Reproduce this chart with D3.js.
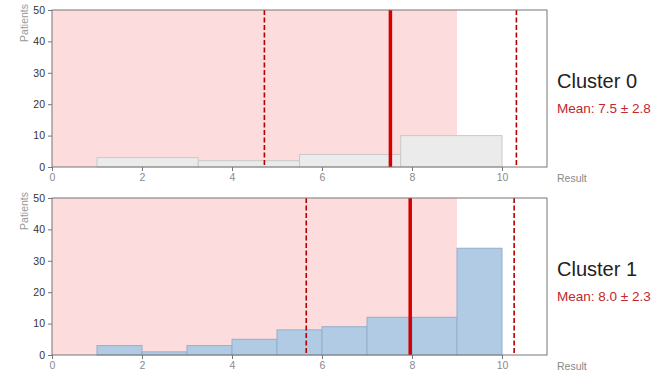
<!DOCTYPE html>
<html>
<head>
<meta charset="utf-8">
<script src="https://cdn.jsdelivr.net/npm/d3@7/dist/d3.min.js"></script>
<style>
  html, body { margin: 0; padding: 0; background: #fff; }
  svg { display: block; font-family: "Liberation Sans", Arial, sans-serif; }
</style>
</head>
<body>
<svg id="chart" width="664" height="371"></svg>
<script>
// Histogram bins per cluster: [x0, x1, count]
const cluster0Bins = [[1, 3.25, 3], [3.25, 5.5, 2], [5.5, 7.75, 4], [7.75, 10, 10]];
const cluster1Bins = [[1, 2, 3], [2, 3, 1], [3, 4, 3], [4, 5, 5], [5, 6, 8], [6, 7, 9], [7, 8, 12], [8, 9, 12], [9, 10, 34]];
const clusterNames = ["Cluster 0", "Cluster 1"];
const clusterMeans = [7.52, 7.96];
const clusterSDs = [2.8, 2.31];
const shadedRange = [0, 9];
const xTicks = [0, 2, 4, 6, 8, 10];
const yTicks = [0, 10, 20, 30, 40, 50];

const panels = [
  { bins: cluster0Bins, top: 10, fill: "#ebebeb", stroke: "#c9c9c9" },
  { bins: cluster1Bins, top: 198, fill: "#b1cbe4", stroke: "#92afce" }
];

const svg = d3.select("#chart");
const left = 52, right = 547, plotH = 157;

const x = d3.scaleLinear().domain([0, 11]).range([left, right]);

panels.forEach((p, i) => {
  const y = d3.scaleLinear().domain([0, 50]).range([p.top + plotH, p.top]);
  const g = svg.append("g");

  // shaded band
  g.append("rect")
    .attr("x", x(shadedRange[0])).attr("y", y(50))
    .attr("width", x(shadedRange[1]) - x(shadedRange[0]))
    .attr("height", y(0) - y(50))
    .attr("fill", "#fcdcdc");

  // bars
  g.selectAll("rect.bar").data(p.bins).join("rect")
    .attr("class", "bar")
    .attr("x", d => x(d[0]))
    .attr("y", d => y(d[2]))
    .attr("width", d => x(d[1]) - x(d[0]))
    .attr("height", d => y(0) - y(d[2]))
    .attr("fill", p.fill)
    .attr("stroke", p.stroke)
    .attr("stroke-width", 1);

  // mean and ±1 SD lines
  const m = clusterMeans[i], s = clusterSDs[i];
  [m - s, m + s].forEach(v => {
    g.append("line")
      .attr("x1", x(v)).attr("x2", x(v))
      .attr("y1", y(50)).attr("y2", y(0))
      .attr("stroke", "#b30000").attr("stroke-width", 1.6)
      .attr("stroke-dasharray", "5,2.5");
  });
  g.append("line")
    .attr("x1", x(m)).attr("x2", x(m))
    .attr("y1", y(50)).attr("y2", y(0))
    .attr("stroke", "#d40000").attr("stroke-width", 3.5);

  // frame
  g.append("rect")
    .attr("x", x(0)).attr("y", y(50))
    .attr("width", x(11) - x(0)).attr("height", y(0) - y(50))
    .attr("fill", "none").attr("stroke", "#777").attr("stroke-width", 1);

  // y axis
  const ya = g.append("g").attr("transform", `translate(${x(0)},0)`)
    .call(d3.axisLeft(y).tickValues(yTicks).tickSize(4).tickPadding(3));
  ya.select(".domain").remove();
  ya.selectAll(".tick line").attr("stroke", "#777");
  ya.selectAll(".tick text").attr("fill", "#333").style("font-size", "10.5px")
    .style("font-family", "'Liberation Sans', Arial, sans-serif");

  // x axis
  const xa = g.append("g").attr("transform", `translate(0,${y(0)})`)
    .call(d3.axisBottom(x).tickValues(xTicks).tickSize(4).tickPadding(3));
  xa.select(".domain").remove();
  xa.selectAll(".tick line").attr("stroke", "#777");
  xa.selectAll(".tick text").attr("fill", "#8a8a8a").style("font-size", "10.5px")
    .style("font-family", "'Liberation Sans', Arial, sans-serif");

  // axis titles
  g.append("text")
    .attr("transform", `translate(27.5,${y(50) - 6}) rotate(-90)`)
    .attr("text-anchor", "end")
    .attr("fill", "#999").style("font-size", "10.5px")
    .text("Patients");
  g.append("text")
    .attr("x", 557).attr("y", y(0) + 15)
    .attr("fill", "#888").style("font-size", "10.5px")
    .text("Result");

  // cluster label and summary
  g.append("text")
    .attr("x", 557).attr("y", p.top + 78)
    .attr("fill", "#222").style("font-size", "20px")
    .text(clusterNames[i]);
  g.append("text")
    .attr("x", 557).attr("y", p.top + 103)
    .attr("fill", "#c0282d").style("font-size", "13.5px")
    .text(`Mean: ${m.toFixed(1)} ± ${s.toFixed(1)}`);
});
</script>
</body>
</html>
